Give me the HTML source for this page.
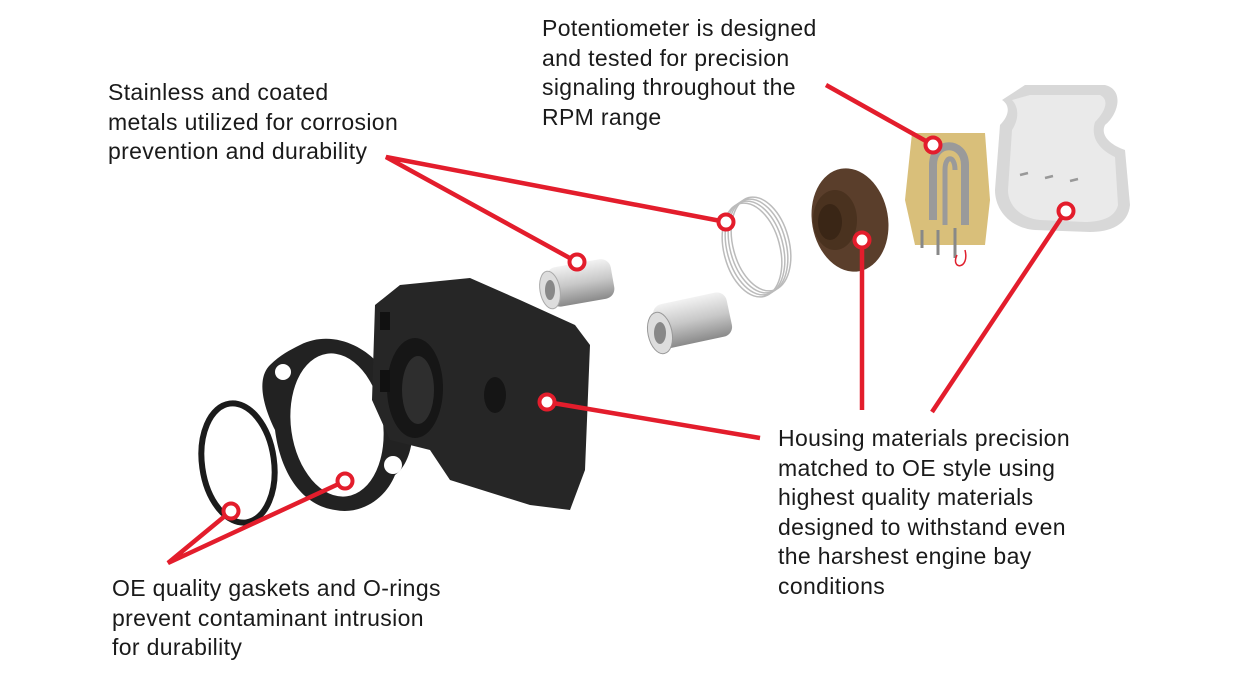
<!DOCTYPE html>
<html><head><meta charset="utf-8"><style>
html,body{margin:0;padding:0;background:#fff;}
body{width:1233px;height:679px;position:relative;overflow:hidden;font-family:"Liberation Sans",sans-serif;}
.t{position:absolute;font-size:23px;line-height:29.5px;color:#1a1a1a;white-space:nowrap;letter-spacing:0.35px;}
svg{position:absolute;left:0;top:0;}
</style></head><body>
<svg width="1233" height="679" viewBox="0 0 1233 679">
<defs>
<linearGradient id="cyl" x1="0" y1="0" x2="0" y2="1"><stop offset="0" stop-color="#f2f2f2"/><stop offset=".5" stop-color="#c8c8c8"/><stop offset="1" stop-color="#8a8a8a"/></linearGradient>
</defs>
<!-- gaskets -->
<ellipse cx="238" cy="463" rx="36" ry="60" fill="none" stroke="#1b1b1b" stroke-width="6" transform="rotate(-8 238 463)"/>
<path d="M300 345 C330 330 360 345 375 360 C395 360 410 380 405 400 C420 430 410 465 395 475 C385 500 360 515 335 510 C300 505 280 470 275 430 C265 410 255 380 270 365 C280 355 290 350 300 345 Z" fill="#222"/>
<ellipse cx="337" cy="425" rx="46" ry="72" fill="#fff" transform="rotate(-8 337 425)"/>
<circle cx="283" cy="372" r="8" fill="#fff"/><circle cx="393" cy="465" r="9" fill="#fff"/>
<!-- housing -->
<path d="M375 305 L400 285 L470 278 L520 300 L575 325 L590 345 L585 470 L570 510 L530 505 L450 480 L430 450 L390 440 L372 400 Z" fill="#262626"/>
<ellipse cx="415" cy="388" rx="28" ry="50" fill="#161616"/>
<ellipse cx="418" cy="390" rx="16" ry="34" fill="#2e2e2e"/>
<ellipse cx="495" cy="395" rx="11" ry="18" fill="#151515"/>
<rect x="380" y="312" width="10" height="18" fill="#111"/><rect x="380" y="370" width="10" height="22" fill="#111"/>
<!-- small cylinder -->
<rect x="548" y="263" width="65" height="40" rx="10" fill="url(#cyl)" transform="rotate(-10 580 283)"/>
<ellipse cx="550" cy="290" rx="10" ry="19" fill="#ddd" stroke="#aaa" transform="rotate(-10 550 290)"/>
<ellipse cx="550" cy="290" rx="5" ry="10" fill="#888"/>
<!-- large cylinder -->
<rect x="655" y="298" width="75" height="45" rx="10" fill="url(#cyl)" transform="rotate(-12 692 320)"/>
<ellipse cx="660" cy="333" rx="12" ry="21" fill="#ddd" stroke="#999" transform="rotate(-12 660 333)"/>
<ellipse cx="660" cy="333" rx="6" ry="11" fill="#888"/>
<!-- spring -->
<g fill="none" stroke="#bbb" stroke-width="1.5">
<ellipse cx="752" cy="250" rx="28" ry="48" transform="rotate(-15 752 250)"/>
<ellipse cx="755" cy="248" rx="28" ry="48" transform="rotate(-15 755 248)"/>
<ellipse cx="758" cy="246" rx="28" ry="48" transform="rotate(-15 758 246)"/>
<ellipse cx="761" cy="244" rx="28" ry="48" transform="rotate(-15 761 244)"/>
</g>
<!-- brown cap -->
<ellipse cx="850" cy="220" rx="38" ry="52" fill="#5a3e2b" transform="rotate(-10 850 220)"/>
<ellipse cx="835" cy="220" rx="22" ry="30" fill="#4a321f"/>
<ellipse cx="830" cy="222" rx="12" ry="18" fill="#3a2616"/>
<!-- pcb -->
<path d="M912 133 L985 133 L990 200 L985 245 L915 245 L905 200 Z" fill="#d9bf7a"/>
<path d="M933 220 L933 165 C933 140 965 140 965 165 L965 225" fill="none" stroke="#9a9a9a" stroke-width="8"/>
<path d="M945 225 L945 170 C945 155 955 155 955 170" fill="none" stroke="#9a9a9a" stroke-width="5"/>
<g stroke="#888" stroke-width="3"><line x1="922" y1="230" x2="922" y2="248"/><line x1="938" y1="230" x2="938" y2="255"/><line x1="955" y1="228" x2="955" y2="258"/></g>
<path d="M957 255 C950 270 970 270 965 250" fill="none" stroke="#e0202e" stroke-width="1.5"/>
<!-- grey cover -->
<path d="M1025 85 L1105 85 C1125 90 1118 115 1105 125 C1100 135 1110 145 1125 150 L1130 205 C1128 225 1110 232 1090 232 L1035 230 C1010 228 995 210 995 190 L1000 125 C1010 115 1010 105 1002 100 Z" fill="#d8d8d8"/>
<path d="M1030 95 L1100 95 C1110 100 1105 112 1095 122 C1090 138 1100 150 1115 157 L1118 205 C1115 218 1100 222 1085 222 L1040 220 C1020 218 1008 205 1008 190 L1012 130 C1020 118 1018 106 1012 100 Z" fill="#eaeaea"/>
<g stroke="#999" stroke-width="2.5"><line x1="1020" y1="175" x2="1028" y2="173"/><line x1="1045" y1="178" x2="1053" y2="176"/><line x1="1070" y1="181" x2="1078" y2="179"/></g>
<!-- red lines -->
<g stroke="#e31d2c" stroke-width="4.5" fill="none" stroke-linecap="butt">
<polyline points="577,262 386,157 726,222"/>
<line x1="826" y1="85" x2="933" y2="145"/>
<polyline points="547,402 760,438"/>
<line x1="862" y1="240" x2="862" y2="410"/>
<line x1="1066" y1="211" x2="932" y2="412"/>
<polyline points="231,511 168,563 345,481"/>
</g>
<g fill="#fff" stroke="#e31d2c" stroke-width="4">
<circle cx="577" cy="262" r="7.5"/><circle cx="726" cy="222" r="7.5"/><circle cx="933" cy="145" r="7.5"/>
<circle cx="547" cy="402" r="7.5"/><circle cx="862" cy="240" r="7.5"/><circle cx="1066" cy="211" r="7.5"/>
<circle cx="231" cy="511" r="7.5"/><circle cx="345" cy="481" r="7.5"/>
</g>
</svg>
<div class="t" style="left:542px;top:14px;">Potentiometer is designed<br>and tested for precision<br>signaling throughout the<br>RPM range</div>
<div class="t" style="left:108px;top:78px;">Stainless and coated<br>metals utilized for corrosion<br>prevention and durability</div>
<div class="t" style="left:778px;top:424px;">Housing materials precision<br>matched to OE style using<br>highest quality materials<br>designed to withstand even<br>the harshest engine bay<br>conditions</div>
<div class="t" style="left:112px;top:574px;">OE quality gaskets and O-rings<br>prevent contaminant intrusion<br>for durability</div>
</body></html>
